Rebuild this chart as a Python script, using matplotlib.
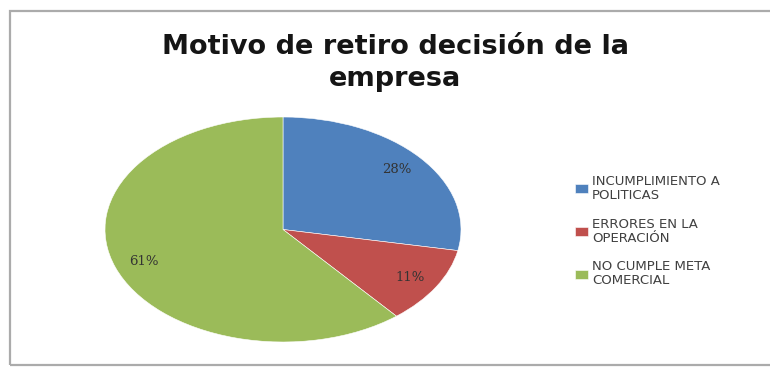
import matplotlib.pyplot as plt
from matplotlib.patches import Rectangle

# Motivos de retiro por decisión de la empresa
categorias = ["INCUMPLIMIENTO A\nPOLITICAS", "ERRORES EN LA\nOPERACIÓN", "NO CUMPLE META\nCOMERCIAL"]
porcentajes = [28, 11, 61]
colores = ["#4F81BD", "#C0504D", "#9BBB59"]

fig = plt.figure(figsize=(7.7, 3.71), dpi=100)

# marco gris del grafico
fig.patches.append(Rectangle((10 / 770, 1 - 365 / 371), 800 / 770, 354 / 371,
                             transform=fig.transFigure, fill=False,
                             edgecolor="#ababab", linewidth=1.6))

fig.text(395 / 770, 1 - 63 / 371, "Motivo de retiro decisión de la\nempresa",
         ha="center", va="center", fontsize=19.5, fontweight="bold",
         family="DejaVu Sans", color="#151515", linespacing=1.3)

# el pastel se dibuja elíptico (aspect auto)
ax = fig.add_axes([105 / 770, 1 - 342 / 371, 356 / 770, 225 / 371])
wedges, textos, autotextos = ax.pie(porcentajes, colors=colores, startangle=90,
                                    counterclock=False, autopct="%1.0f%%",
                                    pctdistance=0.83,
                                    wedgeprops=dict(edgecolor="white", linewidth=0.4),
                                    textprops=dict(fontsize=9.5, color="#333333",
                                                   family="DejaVu Serif"))
ax.set_aspect("auto")
ax.set_xlim(-1, 1)
ax.set_ylim(-1, 1)

leg = fig.legend(wedges, categorias, loc="center left",
                 bbox_to_anchor=(563 / 770, 1 - 231 / 371), frameon=False,
                 prop=dict(family="DejaVu Sans", size=9.5),
                 handlelength=1.0, handleheight=0.7, handletextpad=0.3,
                 labelspacing=1.2, labelcolor="#404040")
for t in leg.get_texts():
    t.set_linespacing(1.1)

fig.savefig("out.png", dpi=100)
